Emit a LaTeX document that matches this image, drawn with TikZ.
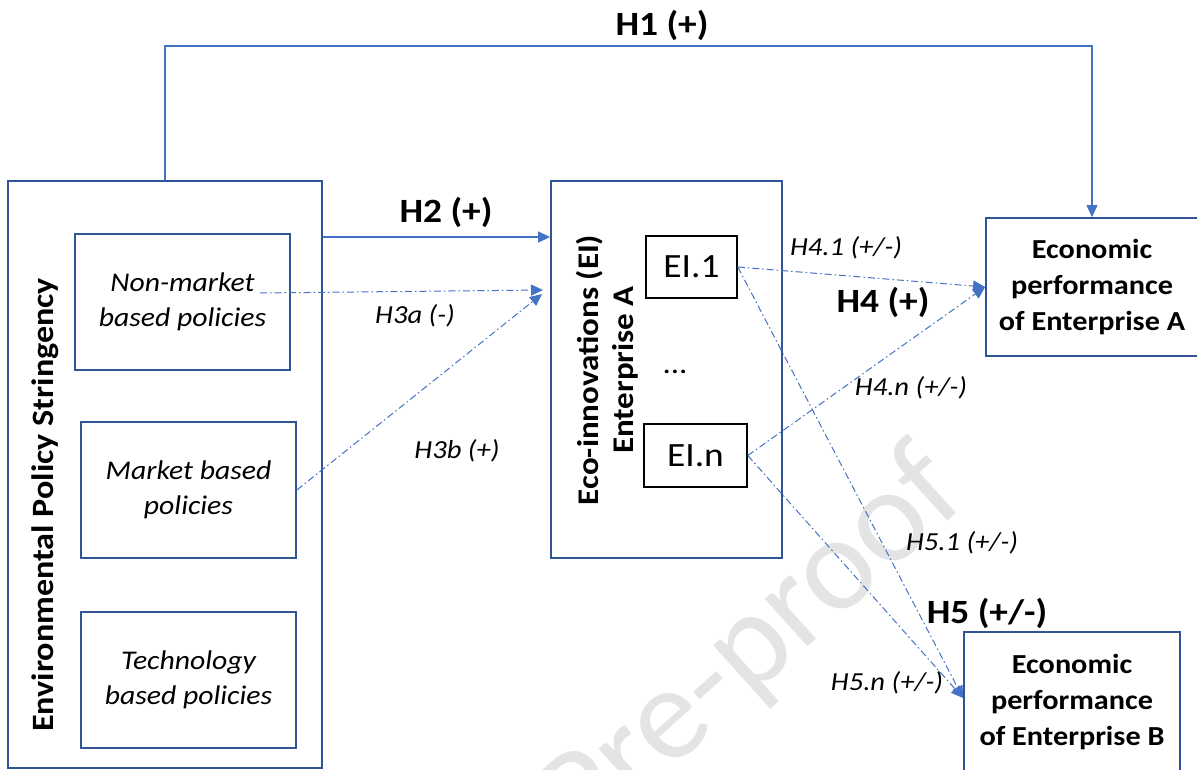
\documentclass[tikz,border=0pt]{standalone}
\usepackage{fontspec}
\setmainfont{Carlito}[FakeStretch=1.1]
\newfontfamily\wmfont{Carlito}
\usetikzlibrary{arrows.meta,calc}
\definecolor{boxblue}{HTML}{2F5597}
\definecolor{lineblue}{HTML}{4472C4}
\definecolor{wmgray}{HTML}{E4E4E4}
\begin{document}
\begin{tikzpicture}[x=1pt,y=-1pt,
  bbox/.style={draw=boxblue, line width=1.8pt, inner sep=0pt, align=center},
  kbox/.style={draw=black, line width=1.6pt, inner sep=0pt, align=center, font=\fontsize{34}{40}\selectfont},
  policy/.style={bbox, minimum width=215pt, minimum height=136pt, font=\itshape\fontsize{27}{35}\selectfont},
  perf/.style={bbox, font=\bfseries\fontsize{27.5}{36}\selectfont},
  biglbl/.style={font=\bfseries\fontsize{34}{40}\selectfont, inner sep=0pt},
  smlbl/.style={font=\itshape\fontsize{26}{30}\selectfont, inner sep=0pt},
  conn/.style={draw=lineblue, line width=1.1pt},
  dconn/.style={draw=lineblue, line width=1pt, dash pattern=on 7pt off 3pt on 1.5pt off 3pt},
  tip/.style={-{Triangle[length=12pt,width=11pt]}}
]
\path[use as bounding box, clip] (0,0) rectangle (1197,769);
\fill[white] (0,0) rectangle (1197,769);

% watermark
\node[rotate=42, anchor=base east, text=wmgray, inner sep=0pt,
      font=\wmfont\fontsize{134}{134}\selectfont] (wmk) at (970,501) {Journal Pre-proof};

% left block
\node[bbox, minimum width=314pt, minimum height=587pt] (eps) at (165,474.5) {};
\node[rotate=90, font=\bfseries\fontsize{31}{36}\selectfont, inner sep=0pt] (epst) at (45,505) {Environmental Policy Stringency};
\node[policy] (nm) at (182.5,302) {Non-market\\based policies};
\node[policy] (mb) at (188.5,490) {Market based\\policies};
\node[policy] (tb) at (188.5,680) {Technology\\based policies};

% eco-innovation block
\node[bbox, minimum width=231pt, minimum height=377pt] (eco) at (666.5,369.5) {};
\node[rotate=90, align=center, font=\bfseries\fontsize{30}{35}\selectfont, inner sep=0pt] (ecot) at (607,370) {Eco-innovations (EI)\\Enterprise A};
\node[kbox, minimum width=91pt, minimum height=62pt] (ei1) at (691.5,267) {EI.1};
\node[kbox, minimum width=103pt, minimum height=63pt] (ein) at (695.5,455.5) {EI.n};
\node[font=\fontsize{30}{36}\selectfont, inner sep=0pt] (dots) at (675,372) {...};

% performance blocks
\node[perf, minimum width=212pt, minimum height=138pt] (epa) at (1092,287) {Economic\\performance\\of Enterprise A};
\node[perf, minimum width=216pt, minimum height=140pt] (epb) at (1072,702) {Economic\\performance\\of Enterprise B};

% helper coordinates
\coordinate (topy) at (0,46);
\coordinate (h2y) at (0,237);
\coordinate (h3s) at (260,293);
\coordinate (h3tip) at (543,290);
\coordinate (h3btip) at (542,294);
\coordinate (epbin) at ($(epb.west)+(0,-4)$);

% H1
\draw[conn, tip] (eps.north) -- (eps.north |- topy) -| (epa.north);
% H2
\draw[conn, tip] (eps.east |- h2y) -- (eco.west |- h2y);
% H3
\draw[dconn, tip] (h3s) -- (h3tip);
\draw[dconn, tip] (mb.east) -- (h3btip);
% H4
\draw[dconn, tip] (ei1.east) -- (epa.west);
\draw[dconn, tip] (ein.east) -- (epa.west);
% H5
\draw[dconn, tip] (ei1.east) -- (epbin);
\draw[dconn, tip] (ein.east) -- (epbin);

% labels
\node[biglbl] (lh1) at (662,25) {H1 (+)};
\node[biglbl] (lh2) at (446,212) {H2 (+)};
\node[biglbl] (lh4) at (883,302) {H4 (+)};
\node[biglbl] (lh5) at (987,613) {H5 (+/-)};
\node[smlbl] (lh3a) at (415,316) {H3a (-)};
\node[smlbl] (lh3b) at (457,451) {H3b (+)};
\node[smlbl] (lh41) at (846,248) {H4.1 (+/-)};
\node[smlbl] (lh4n) at (911,388) {H4.n (+/-)};
\node[smlbl] (lh51) at (962,543) {H5.1 (+/-)};
\node[smlbl] (lh5n) at (887,683) {H5.n (+/-)};
\end{tikzpicture}
\end{document}
